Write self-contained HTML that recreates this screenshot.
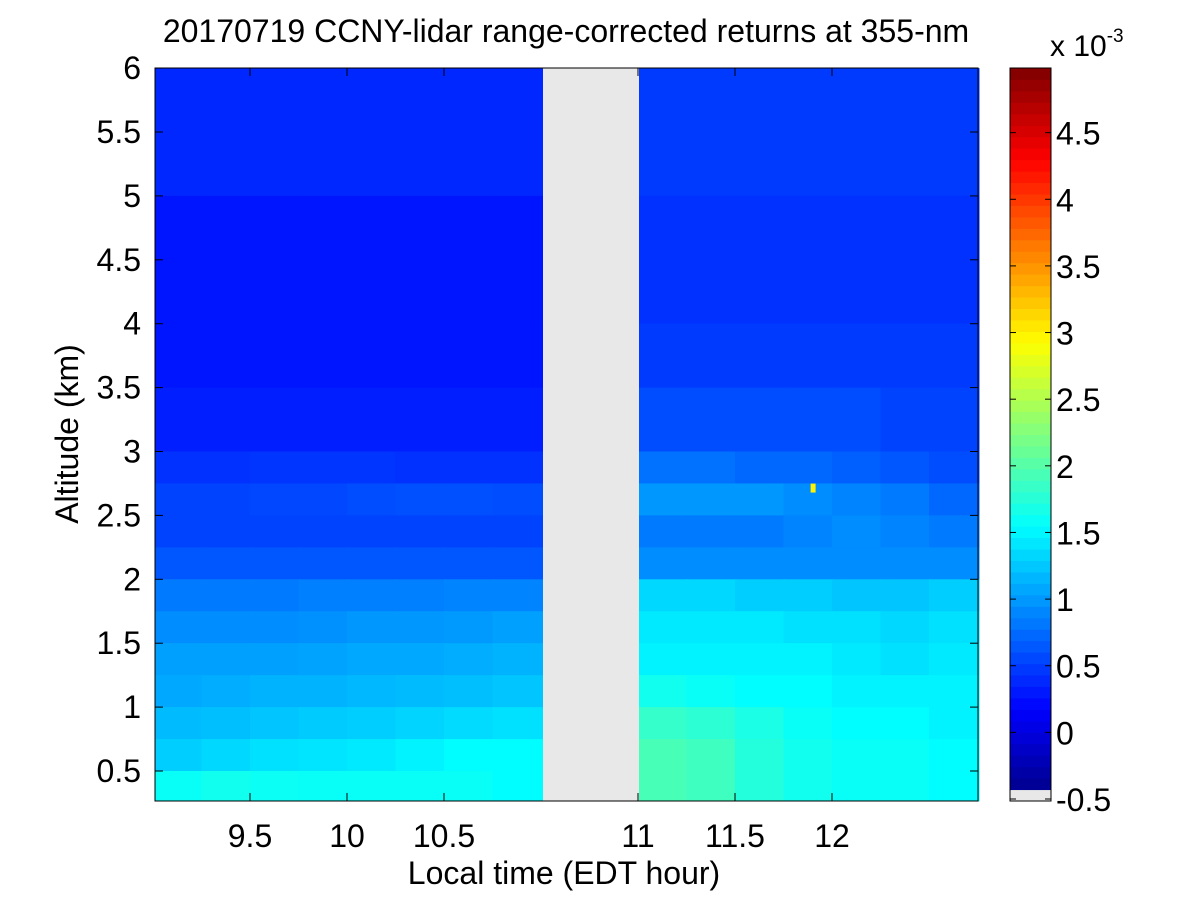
<!DOCTYPE html>
<html><head><meta charset="utf-8"><style>
body{margin:0;background:#fff;}
svg{display:block;font-family:"Liberation Sans",Arial,sans-serif;}
</style></head><body>
<svg id="chart" width="1200" height="900" viewBox="0 0 1200 900">
<rect width="1200" height="900" fill="#fff"/>
<text x="566" y="42" font-size="32" text-anchor="middle">20170719 CCNY-lidar range-corrected returns at 355-nm</text>
<g id="cells"></g>
<rect x="543" y="68" width="96" height="733" fill="#e8e8e8"/>
<g id="axes"></g>
<text x="564" y="884" font-size="32" text-anchor="middle">Local time (EDT hour)</text>
<text transform="translate(78,434) rotate(-90)" font-size="32" text-anchor="middle">Altitude (km)</text>
<g id="cbar"></g>
<text x="1050" y="56" font-size="30">x 10<tspan font-size="19" dy="-14">-3</tspan></text>
</svg>
<script>
// ---- data ----
const timeEdges = [9.0,9.25,9.5,9.75,10.0,10.25,10.5,10.75,11.0, 11.0,11.25,11.5,11.75,12.0,12.25,12.5,12.75];
const altEdges = [6,5,4,3.5,3,2.75,2.5,2.25,2,1.75,1.5,1.25,1,0.75,0.5,0.25];
// rows: altitude bands top->bottom; 15 columns (8 before gap, 7 after)
const values = [
 [0.4,0.4,0.4,0.4,0.4,0.4,0.4,0.4, 0.5,0.5,0.5,0.5,0.5,0.5,0.5],
 [0.3,0.3,0.3,0.3,0.3,0.3,0.3,0.3, 0.45,0.45,0.45,0.45,0.45,0.45,0.45],
 [0.3,0.3,0.3,0.3,0.3,0.3,0.3,0.3, 0.5,0.5,0.5,0.5,0.5,0.5,0.5],
 [0.35,0.35,0.35,0.35,0.35,0.35,0.35,0.35, 0.6,0.6,0.6,0.6,0.6,0.55,0.55],
 [0.45,0.45,0.47,0.47,0.47,0.45,0.45,0.45, 0.8,0.8,0.75,0.75,0.7,0.65,0.6],
 [0.55,0.55,0.57,0.57,0.6,0.62,0.62,0.6, 1.0,1.0,1.0,0.95,0.9,0.85,0.75],
 [0.55,0.55,0.55,0.55,0.55,0.55,0.55,0.55, 0.85,0.85,0.85,0.9,0.95,0.9,0.85],
 [0.65,0.65,0.65,0.65,0.65,0.65,0.65,0.65, 0.95,0.95,0.95,0.95,0.95,0.95,0.95],
 [0.85,0.85,0.85,0.87,0.87,0.87,0.9,0.9, 1.35,1.35,1.3,1.3,1.25,1.25,1.3],
 [0.95,0.95,0.95,0.97,1.0,1.0,1.02,1.05, 1.45,1.45,1.45,1.4,1.4,1.35,1.4],
 [1.05,1.05,1.05,1.07,1.1,1.1,1.12,1.15, 1.5,1.5,1.5,1.5,1.45,1.4,1.45],
 [1.1,1.12,1.15,1.15,1.18,1.2,1.22,1.25, 1.65,1.6,1.55,1.55,1.5,1.5,1.5],
 [1.2,1.22,1.25,1.28,1.3,1.33,1.37,1.4, 1.85,1.8,1.7,1.6,1.55,1.55,1.5],
 [1.3,1.35,1.4,1.42,1.45,1.5,1.55,1.55, 1.95,1.9,1.75,1.65,1.6,1.6,1.55],
 [1.6,1.65,1.62,1.6,1.6,1.6,1.6,1.55, 1.95,1.9,1.75,1.65,1.6,1.6,1.55]
];
const spikeTime = [11.9];
const spikeAlt = [2.71];
const spikeVal = [3.0];
const xTicks = [9.5,10,10.5,11,11.5,12];
const xTickLabels = ["9.5","10","10.5","11","11.5","12"];
const yTicks = [0.5,1,1.5,2,2.5,3,3.5,4,4.5,5,5.5,6];
const yTickLabels = ["0.5","1","1.5","2","2.5","3","3.5","4","4.5","5","5.5","6"];
const cTicks = [-0.5,0,0.5,1,1.5,2,2.5,3,3.5,4,4.5];
const cTickLabels = ["-0.5","0","0.5","1","1.5","2","2.5","3","3.5","4","4.5"];

// ---- scales ----
const L=155,R=978,T=68,B=801;
function x(t,after){return 250+(t-9.5)*194+((after||t>11)?97:0);}
function y(a){return 771-(a-0.5)*127.8;}
const vmin=-0.5,vmax=5.0;
function cy(v){return 801-(v-vmin)/(vmax-vmin)*733;}
function jet(v){
  let n=(v-vmin)/(vmax-vmin); n=Math.max(0,Math.min(1,n));
  const f=c=>Math.round(255*Math.max(0,Math.min(1,1.5-Math.abs(4*n-c))));
  return `rgb(${f(3)},${f(2)},${f(1)})`;
}
const NS="http://www.w3.org/2000/svg";
function el(tag,attrs,parent){const e=document.createElementNS(NS,tag);for(const k in attrs)e.setAttribute(k,attrs[k]);parent.appendChild(e);return e;}

// ---- heatmap ----
const g=document.getElementById('cells');
for(let r=0;r<values.length;r++){
  for(let c=0;c<values[r].length;c++){
    const after=c>=8;
    const i0=after?c+1:c;
    let x0=x(timeEdges[i0],after), x1=x(timeEdges[i0+1],after);
    x0=Math.max(L,x0); x1=Math.min(R,x1);
    const y0=Math.max(T,y(altEdges[r])), y1=Math.min(B,y(altEdges[r+1]));
    const e=el('rect',{x:x0,y:y0,width:x1-x0+2,height:y1-y0+0.5,fill:jet(values[r][c])},g);
    
    
  }
}
for(let i=0;i<spikeTime.length;i++){
  const e=el('rect',{x:x(spikeTime[i])-2,y:y(spikeAlt[i])-5,width:5,height:9,fill:jet(spikeVal[i])},g);
  
  
}

// ---- axes ----
const ax=document.getElementById('axes');
el('rect',{x:L,y:T,width:R-L,height:B-T,fill:'none',stroke:'#000','stroke-width':1},ax);
xTicks.forEach((t,i)=>{
  const px=x(t,t>=11);
  el('line',{x1:px,y1:B,x2:px,y2:B-8,stroke:'#000'},ax);
  el('line',{x1:px,y1:T,x2:px,y2:T+8,stroke:'#000'},ax);
  const tx=el('text',{x:px,y:847,'font-size':32,'text-anchor':'middle'},ax);
  tx.textContent=xTickLabels[i];
  
  
});
yTicks.forEach((a,i)=>{
  const py=y(a);
  el('line',{x1:L,y1:py,x2:L+8,y2:py,stroke:'#000'},ax);
  el('line',{x1:R,y1:py,x2:R-8,y2:py,stroke:'#000'},ax);
  const tx=el('text',{x:141,y:py+11,'font-size':32,'text-anchor':'end'},ax);
  tx.textContent=yTickLabels[i];
  
  
});

// ---- colorbar ----
const cb=document.getElementById('cbar');
const CX=1010,CW=41;
for(let k=0;k<64;k++){
  const v0=vmin+(vmax-vmin)*k/64, v1=vmin+(vmax-vmin)*(k+1)/64;
  const col=k===0?'#e8e8e8':jet((v0+v1)/2);
  el('rect',{x:CX,y:cy(v1),width:CW,height:cy(v0)-cy(v1)+0.5,fill:col},cb);
}
el('rect',{x:CX,y:T,width:CW,height:B-T,fill:'none',stroke:'#000'},cb);
cTicks.forEach((v,i)=>{
  const py=cy(v)-2;
  el('line',{x1:CX,y1:py,x2:CX+6,y2:py,stroke:'#000'},cb);
  el('line',{x1:CX+CW,y1:py,x2:CX+CW-6,y2:py,stroke:'#000'},cb);
  const tx=el('text',{x:1056,y:py+12,'font-size':32},cb);
  tx.textContent=cTickLabels[i];
  
  
});
</script>
</body></html>
